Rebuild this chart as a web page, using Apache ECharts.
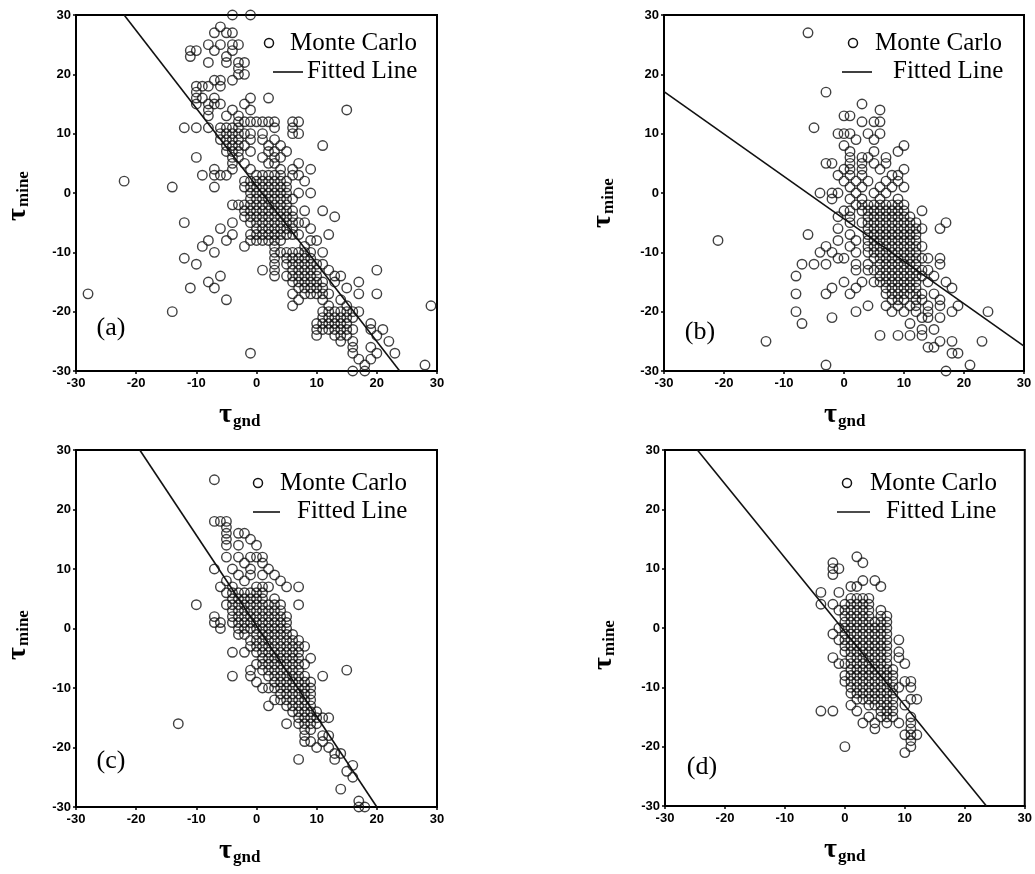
<!DOCTYPE html>
<html>
<head>
<meta charset="utf-8">
<script src="https://cdn.jsdelivr.net/npm/echarts@6/dist/echarts.min.js"></script>
<style>
html,body{margin:0;padding:0;background:#fff;}
#chart{width:1035px;height:874px;}
</style>
</head>
<body>
<div id="chart"></div>
<script>
// Each row: [tau_mine value, tau_gnd values ...]
const monteCarloA = [
 [30,-4,-1],[28,-6],[27,-7,-5,-4],[25,-8,-6,-4,-3],[24,-11,-10,-7,-4],[23,-11,-5],
 [22,-8,-5,-3,-2],[21,-3],[20,-3,-2],[19,-7,-6,-4],[18,-10,-9,-8,-6],[17,-10],
 [16,-10,-9,-7,-1,2],[15,-10,-8,-7,-6,-2],[14,-8,-4,-1,15],[13,-8,-5,-3],
 [12,-3,-2,-1,0,1,2,3,6,7],[11,-12,-10,-8,-6,-5,-4,-3,3,6],[10,-6,-5,-4,-3,-2,-1,1,6,7],
 [9,-6,-5,-4,-3,-1,1,3],[8,-5,-4,-3,-2,2,4,11],[7,-5,-4,-3,-1,2,3,5],[6,-10,-4,-3,1,3,4],
 [5,-4,-2,2,3,7],[4,-7,-4,-1,4,6,9],[3,-9,-7,-6,-5,0,1,2,3,4,6,7],
 [2,-22,-2,-1,0,1,2,3,4,5,8],[1,-14,-7,-2,-1,0,1,2,3,4,5],[0,-1,0,1,2,3,4,5,7,9],
 [-1,-1,0,1,2,3,4,5,6],[-2,-4,-3,-2,-1,0,1,2,3,4,5],[-3,-2,-1,0,1,2,3,4,5,6,8,11],
 [-4,-2,-1,0,1,2,3,4,5,6,13],[-5,-12,-4,-1,0,1,2,3,4,5,6,7,8],[-6,-6,0,1,2,3,4,5,6,9],
 [-7,-4,-1,0,1,2,3,4,5,6,7,12],[-8,-8,-5,-1,0,1,2,3,4,9,10],[-9,-9,-2,3,8],
 [-10,-7,3,4,5,6,7,8,9,11],[-11,-12,3,5,6,7,8,9],[-12,-10,3,5,6,7,8,9,10,11],
 [-13,1,3,6,7,8,9,10,12,20],[-14,-6,3,5,6,7,8,9,10,13,14],[-15,-8,6,7,8,9,10,11,13,17],
 [-16,-11,-7,7,8,9,10,11,15],[-17,-28,6,8,9,10,11,12,17,20],[-18,-5,7,11,14],
 [-19,6,12,15,29],[-20,-14,11,12,13,14,15,16,17],[-21,11,12,13,14,15,16],
 [-22,10,11,12,13,14,15,19],[-23,10,11,12,13,14,15,16,19,21],[-24,10,13,14,15,20],
 [-25,14,16,22],[-26,16,19],[-27,-1,16,20,23],[-28,17,19],[-29,18,28],[-30,16,18]
];
const monteCarloB = [
 [27,-6],[17,-3],[15,3],[14,6],[13,0,1],[12,3,5,6],[11,-5],[10,-1,0,1,4,6],[9,2,5],
 [8,0,10],[7,1,5,9],[6,1,3,4,7],[5,-3,-2,1,3,5,7],[4,0,1,3,6,10],[3,-1,1,3,8,9],
 [2,0,2,4,7,9],[1,1,3,6,8,10],[0,-4,-2,-1,2,5,7],[-1,-2,1,3,6,9],
 [-2,2,3,4,5,6,7,8,9,10],[-3,0,1,3,4,5,6,7,8,9,10,13],[-4,-1,1,4,5,6,7,8,9,10,11],
 [-5,1,3,4,5,6,7,8,9,10,11,12,17],[-6,-1,4,5,6,7,8,9,10,11,12,13,16],
 [-7,-6,1,4,5,6,7,8,9,10,11,12],[-8,-21,-1,2,4,5,6,7,8,9,10,11,12],
 [-9,-3,1,4,5,6,7,8,9,10,11,12,13],[-10,-4,-2,2,4,5,6,7,8,9,10,11,12],
 [-11,-1,0,5,6,7,8,9,10,11,12,13,14,16],[-12,-7,-5,-3,2,4,6,7,8,9,10,11,12,16],
 [-13,2,4,5,6,7,8,9,10,11,12,13,14],[-14,-8,6,7,8,9,10,11,12,13,15],
 [-15,0,3,5,6,7,8,9,10,11,12,14,17],[-16,-2,2,7,8,9,10,11,12,18],
 [-17,-8,-3,1,7,8,9,10,11,12,13,15],[-18,8,9,10,12,13,16],[-19,4,7,9,11,12,14,16,19],
 [-20,-8,2,8,10,12,14,18,24],[-21,-2,13,14,16],[-22,-7,11],[-23,13,15],
 [-24,6,9,11,13],[-25,-13,16,18,23],[-26,14,15],[-27,18,19],[-29,-3,21],[-30,17]
];
const monteCarloC = [
 [25,-7],[18,-7,-6,-5],[17,-5],[16,-5,-3,-2],[15,-5,-1],[14,-5,-3,0],
 [12,-5,-3,-1,0,1],[11,-2,1],[10,-7,-4,-1,2],[9,-3,-1,1,3],[8,-5,-2,4],
 [7,-6,-4,0,1,2,5,7],[6,-5,-4,-3,-2,-1,0,1],[5,-4,-3,-2,-1,0,1,3],
 [4,-10,-5,-4,-3,-2,-1,0,1,2,3,4,7],[3,-4,-3,-2,-1,0,1,2,3,4],
 [2,-7,-4,-3,-2,-1,0,1,2,3,4,5],[1,-7,-6,-4,-3,-2,-1,0,1,2,3,4,5],
 [0,-6,-3,-2,-1,0,1,2,3,4,5],[-1,-3,-2,0,1,2,3,4,5,6],[-2,-1,0,1,2,3,4,5,6,7],
 [-3,-1,0,1,2,3,4,5,6,7,8],[-4,-4,-2,0,1,2,3,4,5,6,7],[-5,1,2,3,4,5,6,7,9],
 [-6,0,1,2,3,4,5,6,7,8],[-7,-1,1,2,3,4,5,6,7,15],[-8,-4,-1,2,3,4,5,6,7,8,11],
 [-9,0,3,4,5,6,7,8,9],[-10,1,2,3,4,5,6,7,8,9],[-11,4,5,6,7,8,9],[-12,3,4,5,6,7,8,9],
 [-13,2,5,6,7,8,9],[-14,6,7,8,9,10],[-15,7,8,9,10,11,12],[-16,-13,5,7,8,9,10],
 [-17,8,9],[-18,8,11,12],[-19,8,9,11],[-20,10,12],[-21,13,14],[-22,7,13],
 [-23,16],[-24,15],[-25,16],[-27,14],[-29,17],[-30,17,18]
];
const monteCarloD = [
 [12,2],[11,-2,3],[10,-2,-1],[9,-2],[8,3,5],[7,1,2,6],[6,-4,-1],[5,1,2,3,4],
 [4,-4,-2,0,1,2,3,4],[3,-1,0,1,2,3,4,6],[2,0,1,2,3,4,6,7],[1,0,1,2,3,4,5,6,7],
 [0,-1,0,1,2,3,4,5,6,7],[-1,-2,0,1,2,3,4,5,6,7],[-2,-1,0,1,2,3,4,5,6,7,9],
 [-3,0,1,2,3,4,5,6,7],[-4,0,1,2,3,4,5,6,7,9],[-5,-2,1,2,3,4,5,6,7,9],
 [-6,-1,0,1,2,3,4,5,6,7,10],[-7,1,2,3,4,5,6,7,8],[-8,0,1,2,3,4,5,6,7,8],
 [-9,0,1,2,3,4,5,6,7,8,10,11],[-10,1,2,3,4,5,6,7,8,9,11],[-11,1,2,3,4,5,6,7,8],
 [-12,2,3,4,5,6,7,8,11,12],[-13,1,4,5,6,7,8,10],[-14,-4,-2,2,6,7,8],
 [-15,4,6,7,8,11],[-16,3,5,7,9,11],[-17,5,11],[-18,10,11,12],[-19,11],[-20,0,11],[-21,10]
];
// Fitted lines: end points [tau_gnd, tau_mine]
const fitA = [[-22,30],[23.8,-30]];
const fitB = [[-30,17.1],[30,-25.8]];
const fitC = [[-19.4,30],[20,-30]];
const fitD = [[-24.6,30],[23.6,-30]];
const panelLabels = ['(a)','(b)','(c)','(d)'];
const axisTicks = [-30,-20,-10,0,10,20,30];
const legendNames = ['Monte Carlo','Fitted Line'];

function toPoints(rows){
  const out=[];
  rows.forEach(r=>{ for(let i=1;i<r.length;i++) out.push([r[i], r[0]]); });
  return out;
}
const panels = [
  {pts: monteCarloA, fit: fitA, grid:{left:76,top:15,width:361,height:356}},
  {pts: monteCarloB, fit: fitB, grid:{left:664,top:15,width:360,height:356}},
  {pts: monteCarloC, fit: fitC, grid:{left:76,top:450,width:361,height:357}},
  {pts: monteCarloD, fit: fitD, grid:{left:665,top:450,width:360,height:356}}
];
const tickFont = {color:'#000', fontWeight:'bold', fontSize:13, fontFamily:'"Liberation Sans", Arial, sans-serif'};
const grids=[], xAxes=[], yAxes=[], series=[];
panels.forEach((p,i)=>{
  grids.push(Object.assign({show:true, borderColor:'#000', borderWidth:2, containLabel:false}, p.grid));
  const common = {gridIndex:i, type:'value', min:axisTicks[0], max:axisTicks[axisTicks.length-1], interval:10,
    axisLine:{show:true, onZero:false, lineStyle:{color:'#000', width:2}},
    axisTick:{show:true, inside:false, length:3, lineStyle:{color:'#000', width:1.5}},
    splitLine:{show:false}};
  xAxes.push(Object.assign({}, common, {axisLabel:Object.assign({margin:6}, tickFont)}));
  yAxes.push(Object.assign({}, common, {axisLabel:Object.assign({margin:5}, tickFont)}));
  series.push({name:legendNames[0], type:'scatter', xAxisIndex:i, yAxisIndex:i, data:toPoints(p.pts),
    symbol:'circle', symbolSize:9.5, itemStyle:{color:'rgba(0,0,0,0)', borderColor:'#111', borderWidth:1.4},
    emphasis:{disabled:true}, silent:true, z:3});
  series.push({name:legendNames[1], type:'line', xAxisIndex:i, yAxisIndex:i, data:p.fit,
    symbol:'none', lineStyle:{color:'#111', width:1.6}, silent:true, z:4});
});

const serif = '"Liberation Serif", "Times New Roman", serif';
const graphic = [];
function txt(x,y,text,font,align,valign){
  return {type:'text', x:x, y:y, silent:true, style:{text:text, font:font, fill:'#000',
    textAlign:align||'left', align:align||'left', textVerticalAlign:valign||'middle', verticalAlign:valign||'middle'}};
}
// legends
const legendPos = [
  {cx:269, cy:43, t1:290, lx1:273, lx2:303, ly:72, t2:307},
  {cx:853, cy:43, t1:875, lx1:842, lx2:872, ly:72, t2:893},
  {cx:258, cy:483, t1:280, lx1:253, lx2:280, ly:512, t2:297},
  {cx:847, cy:483, t1:870, lx1:837, lx2:870, ly:512, t2:886}
];
legendPos.forEach(l=>{
  graphic.push({type:'circle', silent:true, shape:{cx:l.cx, cy:l.cy, r:4.5}, style:{fill:'none', stroke:'#111', lineWidth:1.5}});
  graphic.push(txt(l.t1, l.cy, legendNames[0], '25px '+serif));
  graphic.push({type:'line', silent:true, shape:{x1:l.lx1, y1:l.ly, x2:l.lx2, y2:l.ly}, style:{stroke:'#111', lineWidth:1.6}});
  graphic.push(txt(l.t2, l.ly-1, legendNames[1], '25px '+serif));
});
// panel labels
const labelPos = [[111,328],[700,332],[111,761],[702,767]];
labelPos.forEach((p,i)=>graphic.push(txt(p[0],p[1],panelLabels[i],'26px '+serif,'center')));
// x axis titles
const xTitlePos = [[219,415],[824,415],[219,851],[824,850]];
xTitlePos.forEach(p=>{
  graphic.push(txt(p[0],p[1],'τ','bold 28px '+serif));
  graphic.push(txt(p[0]+14,p[1]+7,'gnd','bold 17px '+serif));
});
// y axis titles (rotated)
const yTitlePos = [[18,221],[603,228],[18,660],[604,670]];
yTitlePos.forEach(p=>{
  graphic.push({type:'group', x:p[0], y:p[1], rotation:Math.PI/2, silent:true, children:[
    txt(0,0,'τ','bold 28px '+serif),
    txt(14,6,'mine','bold 17px '+serif)
  ]});
});

const chart = echarts.init(document.getElementById('chart'), null, {renderer:'canvas'});
chart.setOption({
  animation:false,
  backgroundColor:'#fff',
  grid:grids, xAxis:xAxes, yAxis:yAxes, series:series, graphic:graphic
});
</script>
</body>
</html>
